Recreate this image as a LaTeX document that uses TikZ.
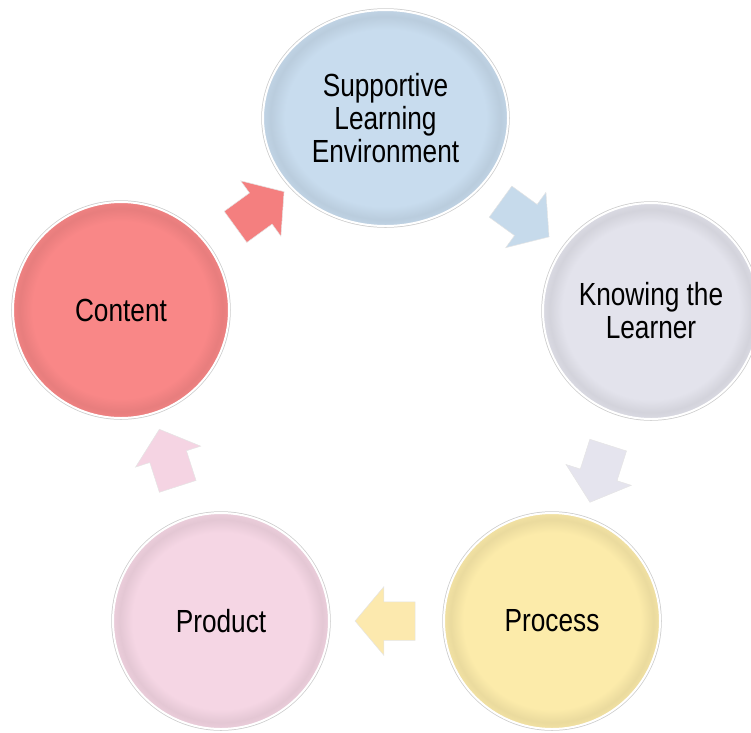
\documentclass[tikz,border=0pt]{standalone}
\usepackage{fontspec}
\setmainfont{Liberation Sans}[FakeStretch=0.82]
\usetikzlibrary{shapes.geometric,shapes.arrows}

% disc fills
\definecolor{cContent}{HTML}{F98787}
\definecolor{cSupport}{HTML}{C8DCEE}
\definecolor{cKnowing}{HTML}{E3E3EC}
\definecolor{cProcess}{HTML}{FCEBAA}
\definecolor{cProduct}{HTML}{F5D6E4}
% block arrow fills
\definecolor{aRed}{HTML}{F47F7F}
\definecolor{aBlue}{HTML}{C6DAEB}
\definecolor{aLav}{HTML}{E5E4EE}
\definecolor{aYellow}{HTML}{FCE9AE}
\definecolor{aPink}{HTML}{F5D4E3}

% flat centre with a slightly darker bevelled rim
\colorlet{bevelbase}{white}
\pgfdeclareradialshading[bevelbase]{bevel}{\pgfpoint{0bp}{0bp}}{%
  color(0bp)=(bevelbase); color(20.5bp)=(bevelbase);
  color(23.5bp)=(bevelbase!93!black); color(25bp)=(bevelbase!96!black);
  color(50bp)=(bevelbase!96!black)}

\tikzset{
  bevelcol/.code={\colorlet{bevelbase}{#1}},
  disc/.style={shade, shading=bevel, bevelcol=#1,
    preaction={draw=black!20, line width=3.5pt},
    draw=white, line width=2pt, inner sep=0pt, align=center,
    font=\fontsize{32}{33}\selectfont},
  blockarrow/.style={single arrow, fill=#1, draw=black!10, line width=0.5pt,
    inner xsep=0pt, inner ysep=19pt, minimum height=60pt,
    single arrow head extend=15pt, single arrow tip angle=100,
    sloped, allow upside down, anchor=center}
}

\begin{document}
\begin{tikzpicture}[x=1pt,y=-1pt]
\clip (0,0) rectangle (751,732);

\node[disc=cSupport, ellipse, minimum width=245pt, minimum height=216pt]
  (sle) at (385.5,118) {Supportive\\Learning\\Environment};
\node[disc=cKnowing, circle, minimum size=216pt]
  (know) at (651,311) {Knowing the\\Learner};
\node[disc=cProcess, circle, minimum size=216pt]
  (proc) at (552,621) {Process};
\node[disc=cProduct, circle, minimum size=216pt]
  (prod) at (221,621) {Product};
\node[disc=cContent, circle, minimum size=216pt]
  (cont) at (121,310) {Content};

\path (cont.center) -- node[blockarrow=aRed] (a1) {} (sle.center);
\path (sle.center) -- node[blockarrow=aBlue] (a2) {} (know.center);
\path (know.center) -- node[blockarrow=aLav] (a3) {} (proc.center);
\path (proc.center) -- node[blockarrow=aYellow, pos=0.48] (a4) {} (prod.center);
\path (prod.center) -- node[blockarrow=aPink] (a5) {} (cont.center);
\end{tikzpicture}
\end{document}
